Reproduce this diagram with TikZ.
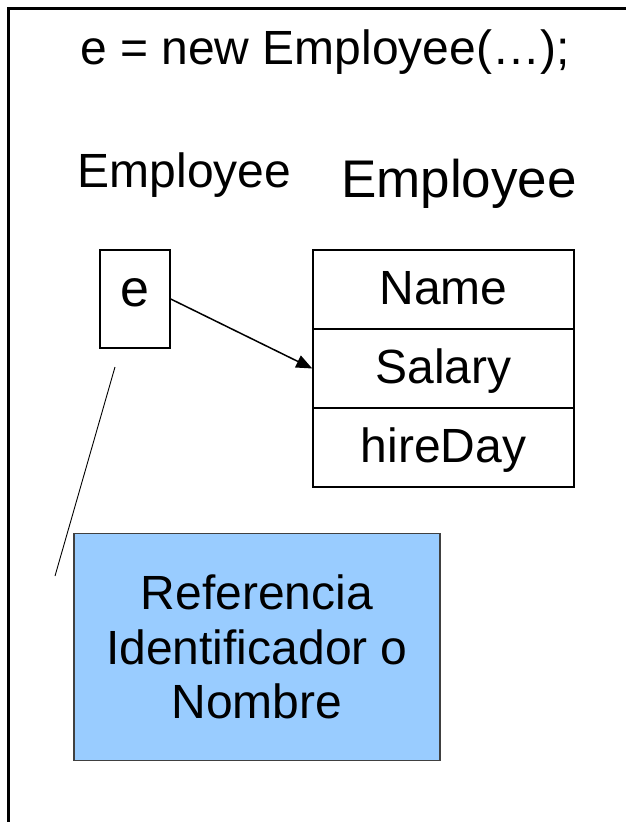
\documentclass[tikz,border=0pt]{standalone}
\usepackage{fontspec}
\setmainfont{Liberation Sans}
\usetikzlibrary{arrows.meta}
\definecolor{notefill}{HTML}{99CCFF}

\begin{document}
\begin{tikzpicture}[
		x=1pt, y=-1pt,
		every node/.style={font=\fontsize{48}{54.5}\selectfont},
		field/.style={draw, line width=1.5pt, minimum width=261pt, minimum height=79pt, inner sep=0pt, text height=29pt, text depth=0pt},
		refbox/.style={draw, line width=1.5pt, minimum width=70pt, minimum height=98pt, inner sep=0pt, text height=15pt, text depth=0pt},
		note/.style={draw=black!75, line width=1.2pt, fill=notefill, minimum width=366pt, minimum height=227pt, align=center}
	]
  \useasboundingbox (0,0) rectangle (626,822);
  \draw [line width=3pt] (8,822) -- (8,8) -- (626,8);
  \node (title) [anchor=base] at (325, 64) {e = new Employee(…);};
  \node (type) [anchor=base] at (184.5, 187) {Employee};
  \node (class) [anchor=base, font=\fontsize{53}{60}\selectfont] at (459, 197) {Employee};
  \node (e) [refbox, font=\fontsize{52}{60}\selectfont] at (135, 299) {e};
  \node (name) [field] at (443.5, 289.5) {Name};
  \node (salary) [field] at (443.5, 368.5) {Salary};
  \node (hireday) [field] at (443.5, 447.5) {hireDay};
  \node (note) [note] at (257, 647) {Referencia\\Identificador o\\Nombre};
  \coordinate (lineA) at (115, 367);
  \coordinate (lineB) at (55, 576);
  \draw [line width=1.5pt, -{Triangle[length=16pt, width=13pt]}] (e.east) -- (salary.west);
  \draw [line width=0.9pt] (lineA) -- (lineB);
\end{tikzpicture}
\end{document}
